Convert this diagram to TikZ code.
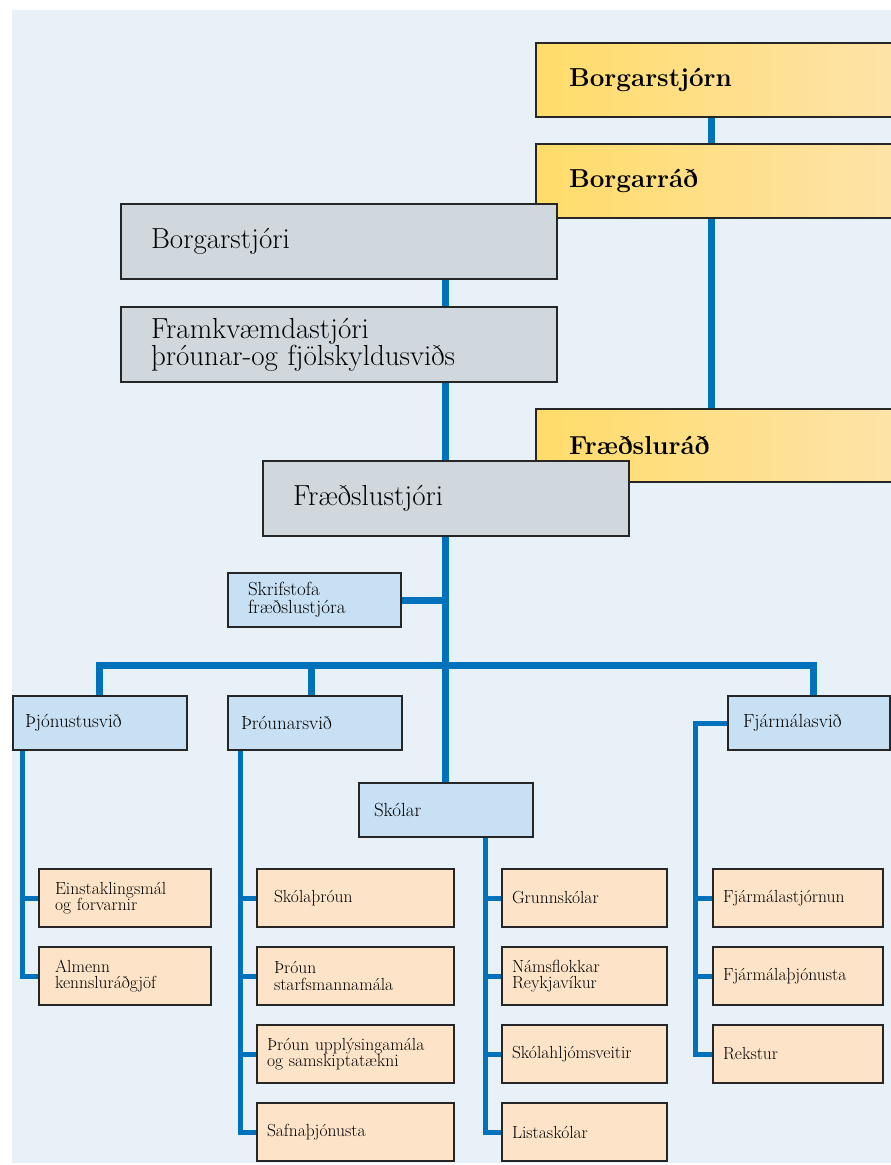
\documentclass[tikz,border=0pt]{standalone}
\usepackage{fontspec}
\usepackage{tikz}
\definecolor{panel}{RGB}{232,241,248}
\definecolor{linkblue}{RGB}{0,114,188}
\definecolor{boxgray}{RGB}{208,216,222}
\definecolor{unitblue}{RGB}{200,224,243}
\definecolor{taskorange}{RGB}{253,227,200}
\definecolor{goldL}{RGB}{255,220,105}
\definecolor{goldR}{RGB}{254,227,170}
\definecolor{edge}{RGB}{38,38,38}
\tikzset{box/.style={draw=edge, line width=2pt, anchor=north west, align=left, inner ysep=0pt}}
\tikzset{council/.style={box, left color=goldL, right color=goldR, text width=300pt, inner xsep=33pt, minimum height=74pt, font=\fontsize{26}{27}\selectfont\bfseries}}
\tikzset{chief/.style={box, fill=boxgray, inner xsep=30pt, minimum height=75pt, font=\fontsize{29}{27}\selectfont}}
\tikzset{unit/.style={box, fill=unitblue, minimum height=54pt, font=\fontsize{19}{18}\selectfont}}
\tikzset{task/.style={box, fill=taskorange, minimum height=58pt, font=\fontsize{17.5}{16.5}\selectfont}}
\tikzset{trunk/.style={draw=linkblue, line width=7pt}}
\tikzset{branch/.style={draw=linkblue, line width=5pt}}

\begin{document}
\begin{tikzpicture}[x=1pt, y=-1pt]
      \useasboundingbox (0,0) rectangle (891,1165);
      \clip (0,0) rectangle (891,1165);
      \fill[panel] (12,10) rectangle (891,1163);

      % columns of the connectors
      \coordinate (cspine) at (711,0);
      \coordinate (spine) at (445.5,0);
      \coordinate (bus) at (0,665.5);
      \coordinate (drop1) at (99,0);
      \coordinate (drop2) at (311,0);
      \coordinate (drop4) at (813.5,0);
      \coordinate (t1) at (22,0);
      \coordinate (t2) at (240,0);
      \coordinate (t3) at (485,0);
      \coordinate (t4) at (695.5,0);

      % city council side
      \node[council] (bstjorn) at (535,42) {Borgarstjórn};
      \node[council] (brad) at (535,143) {Borgarráð};
      \node[council, minimum height=73pt] (frad) at (535,408) {Fræðsluráð};
      \draw[trunk] (bstjorn.south -| cspine) -- (brad.north -| cspine);
      \draw[trunk] (brad.south -| cspine) -- (frad.north -| cspine);

      % executive side
      \node[chief, text width=376pt] (bstjori) at (120,203) {Borgarstjóri};
      \node[chief, text width=376pt] (fram) at (120,306) {Framkvæmdastjóri\\þróunar-og fjölskyldusviðs};
      \node[chief, text width=306pt] (fstjori) at (262,460) {Fræðslustjóri};
      \draw[trunk] (bstjori.south -| spine) -- (fram.north -| spine);
      \draw[trunk] (fram.south -| spine) -- (fstjori.north -| spine);

      % departments
      \node[unit, text width=133pt, inner xsep=20pt] (skrif) at (227,572) {Skrifstofa\\fræðslustjóra};
      \node[unit, text width=150pt, inner xsep=12pt] (thjon) at (12,695) {Þjónustusvið};
      \node[unit, text width=148pt, inner xsep=13pt] (throun) at (227,695) {Þróunarsvið};
      \node[unit, text width=144pt, inner xsep=15pt] (skolar) at (358,782) {Skólar};
      \node[unit, text width=132pt, inner xsep=15pt] (fjarm) at (727,695) {Fjármálasvið};

      \draw[trunk] (fstjori.south -| spine) -- (skolar.north -| spine);
      \draw[trunk] (skrif.east) -- (skrif.east -| spine);
      \draw[trunk] (thjon.north -| drop1) -- (drop1 |- bus) -- (drop4 |- bus) -- (fjarm.north -| drop4);
      \draw[trunk] (drop2 |- bus) -- (throun.north -| drop2);

      % tasks
      \node[task, text width=140pt, inner xsep=16pt] (einst) at (38,868) {Einstaklingsmál\\og forvarnir};
      \node[task, text width=140pt, inner xsep=16pt] (almenn) at (38,946) {Almenn\\kennsluráðgjöf};

      \node[task, text width=163pt, inner xsep=17pt] (skthr) at (256,868) {Skólaþróun};
      \node[task, text width=163pt, inner xsep=17pt] (thrst) at (256,946) {Þróun\\starfsmannamála};
      \node[task, text width=177pt, inner xsep=10pt] (thrupp) at (256,1024) {Þróun upplýsingamála\\og samskiptatækni};
      \node[task, text width=177pt, inner xsep=10pt] (safna) at (256,1102) {Safnaþjónusta};

      \node[task, text width=145pt, inner xsep=10pt] (grunn) at (501,868) {Grunnskólar};
      \node[task, text width=145pt, inner xsep=10pt] (nams) at (501,946) {Námsflokkar\\Reykjavíkur};
      \node[task, text width=145pt, inner xsep=10pt] (skhlj) at (501,1024) {Skólahljómsveitir};
      \node[task, text width=145pt, inner xsep=10pt] (lista) at (501,1102) {Listaskólar};

      \node[task, text width=150pt, inner xsep=10pt] (fjst) at (712,868) {Fjármálastjórnun};
      \node[task, text width=150pt, inner xsep=10pt] (fjthj) at (712,946) {Fjármálaþjónusta};
      \node[task, text width=150pt, inner xsep=10pt] (rekst) at (712,1024) {Rekstur};

      \draw[branch] (thjon.south -| t1) |- (almenn.west);
      \draw[branch] (t1 |- einst.west) -- (einst.west);

      \draw[branch] (throun.south -| t2) |- (safna.west);
      \draw[branch] (t2 |- skthr.west) -- (skthr.west);
      \draw[branch] (t2 |- thrst.west) -- (thrst.west);
      \draw[branch] (t2 |- thrupp.west) -- (thrupp.west);

      \draw[branch] (skolar.south -| t3) |- (lista.west);
      \draw[branch] (t3 |- grunn.west) -- (grunn.west);
      \draw[branch] (t3 |- nams.west) -- (nams.west);
      \draw[branch] (t3 |- skhlj.west) -- (skhlj.west);

      \draw[branch] (fjarm.west) -| (t4 |- rekst.west) -- (rekst.west);
      \draw[branch] (t4 |- fjst.west) -- (fjst.west);
      \draw[branch] (t4 |- fjthj.west) -- (fjthj.west);
\end{tikzpicture}
\end{document}
